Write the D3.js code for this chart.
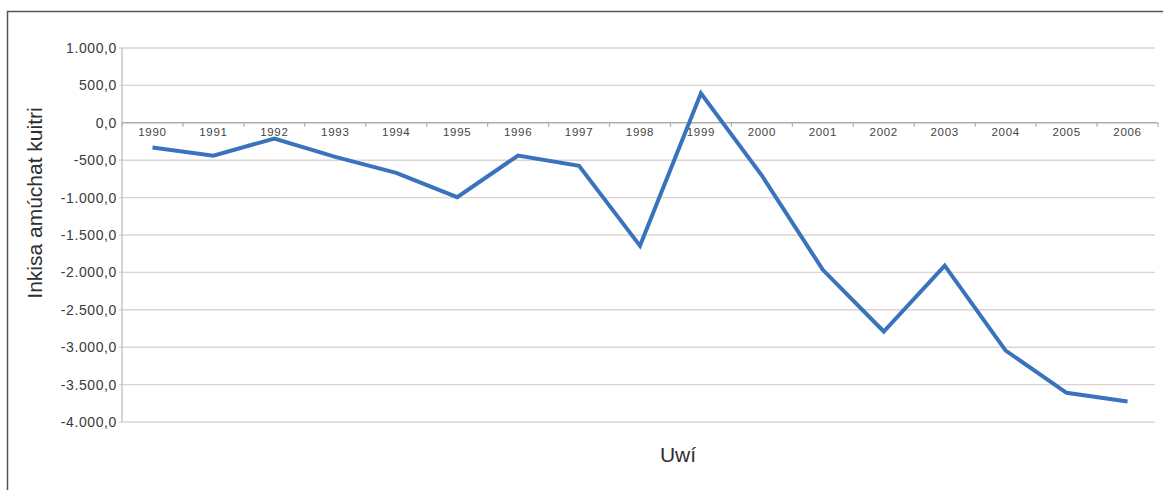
<!DOCTYPE html>
<html>
<head>
    <meta charset="utf-8">
    <title>Inkisa amúchat kuitri</title>
    <script src="https://d3js.org/d3.v7.min.js"></script>
    <style>
        body {
            margin: 0;
            background: #fff;
        }

        svg text {
            font-family: "Liberation Sans", Arial, sans-serif;
        }

        .grid line {
            stroke: #dcd4d0;
            stroke-width: 1.4px;
        }

        .y-label {
            font-size: 14px;
            letter-spacing: 0.6px;
            fill: #3a3a3a;
        }

        .x-label {
            font-size: 11.5px;
            letter-spacing: 0.7px;
            fill: #444;
        }

        .title {
            font-size: 21px;
            fill: #2e2e2e;
        }
    </style>
</head>
<body>
    <svg id="chart" width="1168" height="490"></svg>

    <script>
        // Years and yearly values
        const years = ["1990", "1991", "1992", "1993", "1994", "1995", "1996", "1997", "1998",
                       "1999", "2000", "2001", "2002", "2003", "2004", "2005", "2006"];
        const values = [-330, -440, -210, -455, -670, -995, -437, -575, -1645,
                        395, -705, -1965, -2790, -1910, -3045, -3610, -3725];
        const yTicks = [1000, 500, 0, -500, -1000, -1500, -2000, -2500, -3000, -3500, -4000];

        const svg = d3.select("#chart");

        const plotLeft = 122, plotRight = 1158, plotTop = 48, plotBottom = 422;

        const x = d3.scalePoint()
            .domain(years)
            .range([plotLeft, plotRight])
            .padding(0.5);

        const y = d3.scaleLinear()
            .domain([-4000, 1000])
            .range([plotBottom, plotTop]);

        // Frame (only top and left edges show in the scan)
        svg.append("path")
            .attr("d", "M7.5,490 V11.5 H1163")
            .attr("fill", "none")
            .attr("stroke", "#555")
            .attr("stroke-width", 1.5);

        // Horizontal gridlines
        svg.append("g")
            .attr("class", "grid")
            .selectAll("line")
            .data(yTicks.filter(d => d !== 0))
            .join("line")
            .attr("x1", plotLeft - 3)
            .attr("x2", plotRight - 3)
            .attr("y1", d => y(d))
            .attr("y2", d => y(d));

        // Y axis line
        svg.append("line")
            .attr("x1", plotLeft).attr("x2", plotLeft)
            .attr("y1", plotTop).attr("y2", plotBottom)
            .attr("stroke", "#c9c0bc")
            .attr("stroke-width", 1.4);

        // Y tick labels, formatted with dot thousands and comma decimals
        const fmt = d3.formatLocale({decimal: ",", thousands: ".", grouping: [3], currency: ["", ""], minus: "-"})
            .format(",.1f");

        svg.append("g")
            .selectAll("text")
            .data(yTicks)
            .join("text")
            .attr("class", "y-label")
            .attr("x", plotLeft - 5)
            .attr("y", d => y(d))
            .attr("dy", "0.35em")
            .attr("text-anchor", "end")
            .text(d => fmt(d));

        // X axis at zero with tick marks between categories
        const step = x.step();
        const y0 = y(0);

        svg.append("line")
            .attr("x1", plotLeft).attr("x2", plotRight)
            .attr("y1", y0).attr("y2", y0)
            .attr("stroke", "#b3aba7")
            .attr("stroke-width", 1.4);

        svg.append("g")
            .selectAll("line")
            .data(d3.range(years.length + 1))
            .join("line")
            .attr("x1", i => plotLeft + i * step)
            .attr("x2", i => plotLeft + i * step)
            .attr("y1", y0)
            .attr("y2", y0 + 4)
            .attr("stroke", "#b3aba7")
            .attr("stroke-width", 1.2);

        svg.append("g")
            .selectAll("text")
            .data(years)
            .join("text")
            .attr("class", "x-label")
            .attr("x", d => x(d))
            .attr("y", y0 + 13)
            .attr("text-anchor", "middle")
            .text(d => d);

        // Data line
        const line = d3.line()
            .x((d, i) => x(years[i]))
            .y(d => y(d));

        svg.append("path")
            .datum(values)
            .attr("d", line)
            .attr("fill", "none")
            .attr("stroke", "#3a73bd")
            .attr("stroke-width", 4)
            .attr("stroke-linejoin", "miter");

        // Axis titles
        svg.append("text")
            .attr("class", "title")
            .attr("transform", "translate(42,203) rotate(-90)")
            .attr("text-anchor", "middle")
            .text("Inkisa amúchat kuitri");

        svg.append("text")
            .attr("class", "title")
            .attr("x", 678)
            .attr("y", 462)
            .attr("text-anchor", "middle")
            .text("Uwí");
    </script>
</body>
</html>
